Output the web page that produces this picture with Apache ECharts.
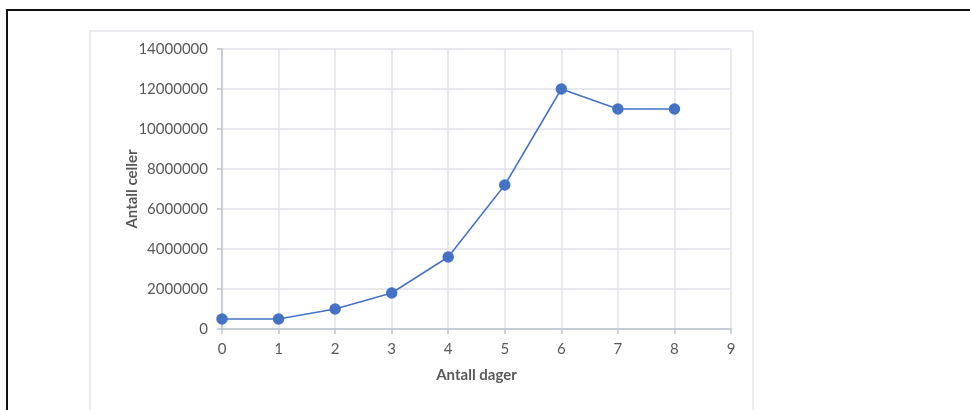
<!DOCTYPE html>
<html>
<head>
<meta charset="utf-8">
<script src="https://cdn.jsdelivr.net/npm/echarts@6/dist/echarts.min.js"></script>
<style>
html,body{margin:0;padding:0;background:#fff;}
#chart{width:970px;height:410px;}
</style>
</head>
<body>
<div id="chart"></div>
<script>
const days = [0, 1, 2, 3, 4, 5, 6, 7, 8];
const cells = [500000, 500000, 1000000, 1800000, 3600000, 7200000, 12000000, 11000000, 11000000];
const xName = 'Antall dager';
const yName = 'Antall celler';

const chart = echarts.init(document.getElementById('chart'), null, {renderer: 'canvas'});
const labelColor = '#595959';
const font = 'Lato, "Open Sans", sans-serif';
chart.setOption({
  animation: false,
  backgroundColor: '#fff',
  graphic: [
    {type: 'rect', shape: {x: 90, y: 31, width: 663, height: 400}, style: {fill: 'none', stroke: '#e3e4ea', lineWidth: 1.5}, z: -10},
    {type: 'line', shape: {x1: 6, y1: 10, x2: 970, y2: 10}, style: {stroke: '#111', lineWidth: 2}},
    {type: 'line', shape: {x1: 7, y1: 10, x2: 7, y2: 410}, style: {stroke: '#111', lineWidth: 2}}
  ],
  grid: {left: 222, top: 49, width: 509, height: 280, containLabel: false},
  xAxis: {
    type: 'value', min: 0, max: 9, interval: 1,
    name: xName, nameLocation: 'middle', nameGap: 39, nameMoveOverlap: false,
    nameTextStyle: {color: labelColor, fontFamily: font, fontSize: 15, fontWeight: 'bold'},
    axisLine: {show: true, lineStyle: {color: '#bcc3cf', width: 1.5}},
    axisTick: {show: true, length: 5, lineStyle: {color: '#bcc3cf', width: 1.5}},
    axisLabel: {color: labelColor, fontFamily: font, fontSize: 15, margin: 13},
    splitLine: {show: true, lineStyle: {color: '#dfe2e8', width: 1.5}}
  },
  yAxis: {
    type: 'value', min: 0, max: 14000000, interval: 2000000,
    name: yName, nameLocation: 'middle', nameGap: 82, nameRotate: 90, nameMoveOverlap: false,
    nameTextStyle: {color: labelColor, fontFamily: font, fontSize: 15, fontWeight: 'bold'},
    axisLine: {show: true, lineStyle: {color: '#bcc3cf', width: 1.5}},
    axisTick: {show: true, length: 5, lineStyle: {color: '#bcc3cf', width: 1.5}},
    axisLabel: {color: labelColor, fontFamily: font, fontSize: 15, margin: 14, formatter: v => String(v)},
    splitLine: {show: true, lineStyle: {color: '#dfe2e8', width: 1.5}}
  },
  series: [{
    type: 'line',
    data: days.map((d, i) => [d, cells[i]]),
    symbol: 'circle', symbolSize: 11.5,
    lineStyle: {color: '#4472c4', width: 1.5},
    itemStyle: {color: '#4472c4'}
  }]
});
</script>
</body>
</html>
